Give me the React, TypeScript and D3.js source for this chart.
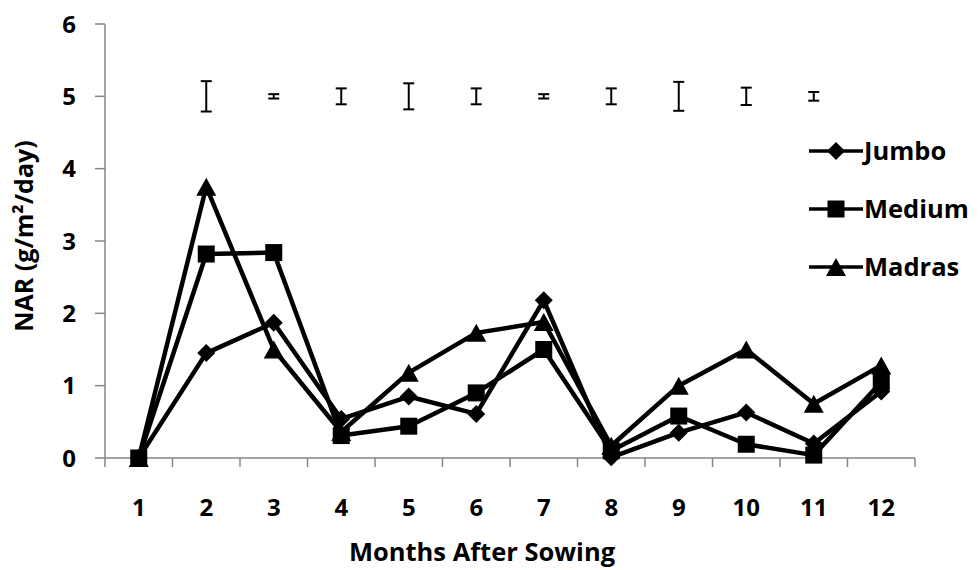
import React from 'react';
import * as d3 from 'd3';

// Months after sowing (category axis)
const months = ['1', '2', '3', '4', '5', '6', '7', '8', '9', '10', '11', '12'];

// Net assimilation rate, g/m²/day, per variety
const jumbo = [0, 1.45, 1.87, 0.54, 0.85, 0.61, 2.18, 0.01, 0.35, 0.63, 0.2, 0.92];
const medium = [0, 2.82, 2.84, 0.31, 0.44, 0.9, 1.5, 0.1, 0.58, 0.19, 0.04, 1.05];
const madras = [0, 3.75, 1.5, 0.36, 1.18, 1.73, 1.88, 0.17, 1.0, 1.5, 0.75, 1.28];

// LSD-style error bars drawn around a fixed reference level
const errorMonths = ['2', '3', '4', '5', '6', '7', '8', '9', '10', '11'];
const errorCenter = 5;
const errorHalf = [0.21, 0.03, 0.11, 0.18, 0.11, 0.03, 0.11, 0.2, 0.12, 0.06];

const yTicks = [0, 1, 2, 3, 4, 5, 6];

const seriesNames = ['Jumbo', 'Medium', 'Madras'];
const seriesValues = [jumbo, medium, madras];
const seriesMarkers = ['diamond', 'square', 'triangle'];

const W = 979;
const H = 570;
const left = 105;
const right = 915;
const top = 24;
const bottom = 458;

const FONT = "'Open Sans', 'DejaVu Sans', sans-serif";
const AXIS = '#868686';

function markerPath(kind: string): string {
  if (kind === 'diamond') {
    const r = 9;
    return `M0,${-r}L${r},0L0,${r}L${-r},0Z`;
  }
  if (kind === 'square') {
    const s = 8.5;
    return `M${-s},${-s}H${s}V${s}H${-s}Z`;
  }
  const w = 10;
  const h = 9;
  return `M0,${-h}L${w},${h}L${-w},${h}Z`;
}

export default function App() {
  const x = d3.scaleBand<string>().domain(months).range([left, right]).paddingInner(0).paddingOuter(0);
  const cx = (m: string) => (x(m) as number) + x.bandwidth() / 2;
  const y = d3.scaleLinear().domain([0, 6]).range([bottom, top]);

  const line = d3
    .line<number>()
    .x((_, i) => cx(months[i]))
    .y((v) => y(v));

  const boundaries = months.map((m) => x(m) as number).concat([right]);

  return (
    <svg
      width={W}
      height={H}
      viewBox={`0 0 ${W} ${H}`}
      style={{ position: 'absolute', left: 0, top: 0, background: '#fff' }}
      fontFamily={FONT}
    >
      <rect x={0} y={0} width={W} height={H} fill="#fff" />

      {/* y axis */}
      <line x1={left} x2={left} y1={top} y2={bottom} stroke={AXIS} strokeWidth={1.5} />
      {yTicks.map((t) => (
        <g key={`yt${t}`}>
          <line x1={left - 10} x2={left} y1={y(t)} y2={y(t)} stroke={AXIS} strokeWidth={1.5} />
          <text
            x={76}
            y={y(t) + 8.6}
            textAnchor="end"
            fontSize={24}
            fontWeight="bold"
            fill="#000"
          >
            {t}
          </text>
        </g>
      ))}

      {/* x axis */}
      <line x1={left} x2={right} y1={bottom} y2={bottom} stroke={AXIS} strokeWidth={1.5} />
      {boundaries.map((b, i) => (
        <line key={`xt${i}`} x1={b} x2={b} y1={bottom} y2={bottom + 9} stroke={AXIS} strokeWidth={1.5} />
      ))}
      {months.map((m) => (
        <text
          key={`xl${m}`}
          x={cx(m)}
          y={516}
          textAnchor="middle"
          fontSize={24}
          fontWeight="bold"
          fill="#000"
        >
          {m}
        </text>
      ))}

      {/* axis titles */}
      <text x={482} y={561} textAnchor="middle" fontSize={25.5} fontWeight="bold" fill="#000">
        Months After Sowing
      </text>
      <text
        transform="translate(33,236) rotate(-90)"
        textAnchor="middle"
        fontSize={25}
        fontWeight="bold"
        fill="#000"
      >
        NAR (g/m²/day)
      </text>

      {/* error bars */}
      {errorMonths.map((m, i) => {
        const y1 = y(errorCenter + errorHalf[i]);
        const y2 = y(errorCenter - errorHalf[i]);
        const xc = cx(m);
        return (
          <g key={`eb${m}`} stroke="#000" strokeWidth={2}>
            <line x1={xc} x2={xc} y1={y1} y2={y2} />
            <line x1={xc - 5.5} x2={xc + 5.5} y1={y1} y2={y1} />
            <line x1={xc - 5.5} x2={xc + 5.5} y1={y2} y2={y2} />
          </g>
        );
      })}

      {/* series */}
      {seriesValues.map((vals, s) => (
        <g key={`s${s}`}>
          <path
            d={line(vals) ?? ''}
            fill="none"
            stroke="#000"
            strokeWidth={4.5}
            strokeLinejoin="round"
            strokeLinecap="round"
          />
          {vals.map((v, i) => (
            <path
              key={`m${s}-${i}`}
              d={markerPath(seriesMarkers[s])}
              transform={`translate(${cx(months[i])},${y(v)})`}
              fill="#000"
            />
          ))}
        </g>
      ))}

      {/* legend */}
      {seriesNames.map((name, s) => {
        const ly = 151 + s * 58;
        return (
          <g key={`lg${name}`}>
            <line x1={809} x2={863} y1={ly} y2={ly} stroke="#000" strokeWidth={3.5} />
            <path d={markerPath(seriesMarkers[s])} transform={`translate(836,${ly})`} fill="#000" />
            <text x={864} y={ly + 9.2} fontSize={25.5} fontWeight="bold" fill="#000">
              {name}
            </text>
          </g>
        );
      })}
    </svg>
  );
}
